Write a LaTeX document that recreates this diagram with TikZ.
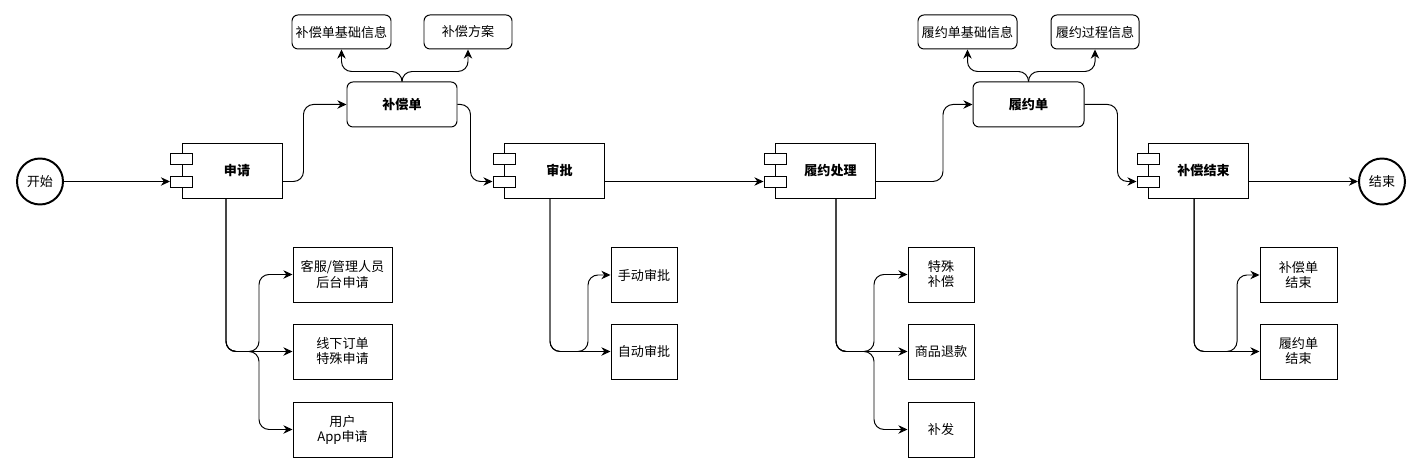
\documentclass[tikz,border=0pt]{standalone}
\usepackage{fontspec}
\setmainfont{Noto Sans CJK SC}
\usetikzlibrary{arrows.meta}

\begin{document}
\begin{tikzpicture}[
	every node/.style={font=\fontsize{9.3}{10.7}\selectfont, align=center},
	comp/.style={shape=rectangle, draw, line width=0.7pt, inner sep=0, minimum width=2.5cm, minimum height=1.375cm},
	port/.style={shape=rectangle, draw, fill=white, line width=0.7pt, inner sep=0, minimum width=0.55cm, minimum height=0.275cm},
	doc/.style={shape=rectangle, draw, rounded corners=0.15cm, line width=0.7pt, inner sep=0, minimum height=1.125cm, font=\fontsize{9.3}{10.7}\selectfont\bfseries},
	info/.style={shape=rectangle, draw, rounded corners=0.15cm, line width=0.7pt, inner sep=0, minimum height=0.85cm},
	leaf/.style={shape=rectangle, draw, line width=0.7pt, inner sep=0, minimum height=1.375cm},
	term/.style={shape=circle, draw, line width=1.4pt, inner sep=0, minimum size=1.15cm},
	flow/.style={line width=0.7pt, rounded corners=0.25cm, -{Stealth[length=6.5pt, width=6pt]}}
]
	\useasboundingbox (0, 0) rectangle (35.375, 11.725);
	% Nodes:
	\node[term] (start) at (1.0, 7.1875) {开始};
	\node[comp] (sq) at (5.8, 7.4625) {};
	\node[port] (sqP1) at ([yshift=0.3cm]sq.west) {};
	\node[port] (sqP2) at ([yshift=-0.275cm]sq.west) {};
	\node[anchor=center, font=\fontsize{9.3}{10.7}\selectfont\bfseries] at ([xshift=0.125cm]sq.center) {申请};
	\node[doc, minimum width=2.75cm] (bcd) at (10.05, 9.1125) {补偿单};
	\node[info, minimum width=2.475cm] (bcdInfo) at (8.5375, 10.925) {补偿单基础信息};
	\node[info, minimum width=2.2cm] (bcdPlan) at (11.7, 10.925) {补偿方案};
	\node[leaf, minimum width=2.475cm] (sqA) at (8.5625, 4.8625) {客服/管理人员\\后台申请};
	\node[leaf, minimum width=2.475cm] (sqB) at (8.5625, 2.9375) {线下订单\\特殊申请};
	\node[leaf, minimum width=2.475cm] (sqC) at (8.5625, 0.9875) {用户\\App申请};
	\node[comp] (sp) at (13.8625, 7.4625) {};
	\node[port] (spP1) at ([yshift=0.3cm]sp.west) {};
	\node[port] (spP2) at ([yshift=-0.275cm]sp.west) {};
	\node[anchor=center, font=\fontsize{9.3}{10.7}\selectfont\bfseries] at ([xshift=0.125cm]sp.center) {审批};
	\node[leaf, minimum width=1.65cm] (spA) at (16.1, 4.85) {手动审批};
	\node[leaf, minimum width=1.65cm] (spB) at (16.1, 2.9375) {自动审批};
	\node[comp] (ly) at (20.6375, 7.4625) {};
	\node[port] (lyP1) at ([yshift=0.3cm]ly.west) {};
	\node[port] (lyP2) at ([yshift=-0.275cm]ly.west) {};
	\node[anchor=center, font=\fontsize{9.3}{10.7}\selectfont\bfseries] at ([xshift=0.125cm]ly.center) {履约处理};
	\node[doc, minimum width=2.775cm] (lyd) at (25.7125, 9.1125) {履约单};
	\node[info, minimum width=2.475cm] (lydInfo) at (24.1875, 10.925) {履约单基础信息};
	\node[info, minimum width=2.2cm] (lydProc) at (27.375, 10.925) {履约过程信息};
	\node[leaf, minimum width=1.65cm] (lyA) at (23.525, 4.8625) {特殊\\补偿};
	\node[leaf, minimum width=1.65cm] (lyB) at (23.525, 2.9375) {商品退款};
	\node[leaf, minimum width=1.65cm] (lyC) at (23.525, 0.9875) {补发};
	\node[comp] (bj) at (29.9625, 7.4625) {};
	\node[port] (bjP1) at ([yshift=0.3cm]bj.west) {};
	\node[port] (bjP2) at ([yshift=-0.275cm]bj.west) {};
	\node[anchor=center, font=\fontsize{9.3}{10.7}\selectfont\bfseries] at ([xshift=0.125cm]bj.center) {补偿结束};
	\node[leaf, minimum width=1.925cm] (bjA) at (32.4625, 4.85) {补偿单\\结束};
	\node[leaf, minimum width=1.925cm] (bjB) at (32.4625, 2.9375) {履约单\\结束};
	\node[term] (stop) at (34.55, 7.1875) {结束};
	% Forks:
	\coordinate (sqFork) at (6.475, 2.9375);
	\coordinate (spFork) at (14.7, 2.9375);
	\coordinate (lyFork) at (21.85, 2.9375);
	\coordinate (bjFork) at (30.925, 2.9375);
	% Main flow:
	\draw[flow] (start) -- (sqP2.west);
	\draw[flow] (sq.east |- sqP2) -- ++(0.525, 0) |- (bcd.west);
	\draw[flow] (bcd.east) -- ++(0.325, 0) |- (spP2.west);
	\draw[flow] (sp.east |- spP2) -- (lyP2.west);
	\draw[flow] (ly.east |- lyP2) -- ++(1.675, 0) |- (lyd.west);
	\draw[flow] (lyd.east) -- ++(0.825, 0) |- (bjP2.west);
	\draw[flow] (bj.east |- bjP2) -- (stop);
	% Detail arrows:
	\draw[flow] (bcd.north) -- ++(0, 0.25) -| (bcdInfo.south);
	\draw[flow] (bcd.north) -- ++(0, 0.25) -| (bcdPlan.south);
	\draw[flow] (lyd.north) -- ++(0, 0.25) -| (lydInfo.south);
	\draw[flow] (lyd.north) -- ++(0, 0.25) -| (lydProc.south);
	\draw[flow] ([xshift=-0.15cm]sq.south) |- (sqFork) |- (sqA.west);
	\draw[flow] ([xshift=-0.15cm]sq.south) |- (sqB.west);
	\draw[flow] ([xshift=-0.15cm]sq.south) |- (sqFork) |- (sqC.west);
	\draw[flow] ([xshift=-0.1125cm]sp.south) |- (spFork) |- (spA.west);
	\draw[flow] ([xshift=-0.1125cm]sp.south) |- (spB.west);
	\draw[flow] ([xshift=0.2625cm]ly.south) |- (lyFork) |- (lyA.west);
	\draw[flow] ([xshift=0.2625cm]ly.south) |- (lyB.west);
	\draw[flow] ([xshift=0.2625cm]ly.south) |- (lyFork) |- (lyC.west);
	\draw[flow] ([xshift=-0.1125cm]bj.south) |- (bjFork) |- (bjA.west);
	\draw[flow] ([xshift=-0.1125cm]bj.south) |- (bjB.west);
\end{tikzpicture}
\end{document}
